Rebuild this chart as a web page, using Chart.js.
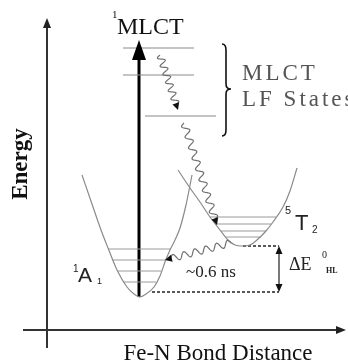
<!DOCTYPE html>
<html>
<head>
<meta charset="utf-8">
<script src="https://cdn.jsdelivr.net/npm/chart.js@4/dist/chart.umd.min.js"></script>
<style>
  html, body { margin: 0; padding: 0; background: #fff; }
  #wrap { width: 348px; height: 360px; position: relative; }
</style>
</head>
<body>
<div id="wrap"><canvas id="c"></canvas></div>
<script>
// Potential energy diagram for an Fe(II) complex.
// x: Fe-N bond distance (arbitrary units), y: energy (arbitrary units).

// 1A1 ground-state well
const groundX = [82, 93, 101, 108, 117, 127, 134, 140, 146, 154, 160, 165, 170, 175, 180, 186, 192];
const groundE = [185, 153, 130, 112, 90, 73, 66, 63, 66, 73, 84, 98, 110, 120, 132, 155, 185];

// 5T2 high-spin well
const quintetX = [178, 190, 200, 210, 220, 228, 235, 242, 250, 258, 266, 273, 283, 290, 297];
const quintetE = [190, 172, 158, 143, 130, 120, 115, 114, 115, 121, 129, 138, 153, 169, 192];

// vibrational levels: energy, left and right ends
const groundLevelE = [111, 100, 89, 78];
const groundLevelL = [108, 112.5, 117.5, 123];
const groundLevelR = [170, 165.5, 161, 156];

const quintetLevelE = [143, 136, 129, 123];
const quintetLevelL = [210, 215, 220.5, 226];
const quintetLevelR = [276, 271, 266, 261];

// MLCT / LF manifold
const mlctLevelE = [312, 285, 244];
const mlctLevelL = [123, 123, 145];
const mlctLevelR = [194, 194, 216];

// zero-point energies for the spin-state gap
const zeroPointE = [114, 68];
const gapLineL = [243, 152];
const gapX = 279;

// excitation arrow (from ground-state minimum up to 1MLCT)
const excitation = { x: 139, from: 63, to: 320 };

// relaxation cascade (start x, start E, end x, end E, waves)
const cascadeX0 = [160, 184, 231];
const cascadeE0 = [305, 237, 117];
const cascadeX1 = [178, 217, 165];
const cascadeE1 = [250, 135, 100];
const cascadeWaves = [6, 9, 5.5];

const ptsOf = (xs, ys) => xs.map((x, i) => ({ x, y: ys[i] }));

const datasets = [];
const lineSet = (data, color, width, extra) => Object.assign({
  data, showLine: true, borderColor: color, borderWidth: width,
  pointRadius: 0, fill: false, tension: 0
}, extra || {});

datasets.push(lineSet(ptsOf(groundX, groundE), '#8a8a8a', 1.2, { cubicInterpolationMode: 'monotone' }));
datasets.push(lineSet(ptsOf(quintetX, quintetE), '#8a8a8a', 1.2, { cubicInterpolationMode: 'monotone' }));

groundLevelE.forEach((e, i) => datasets.push(lineSet([{ x: groundLevelL[i], y: e }, { x: groundLevelR[i], y: e }], '#9a9a9a', 1)));
quintetLevelE.forEach((e, i) => datasets.push(lineSet([{ x: quintetLevelL[i], y: e }, { x: quintetLevelR[i], y: e }], '#9a9a9a', 1)));
mlctLevelE.forEach((e, i) => datasets.push(lineSet([{ x: mlctLevelL[i], y: e }, { x: mlctLevelR[i], y: e }], '#8a8a8a', 1)));

zeroPointE.forEach((e, i) => datasets.push(lineSet([{ x: gapLineL[i], y: e }, { x: gapX, y: e }], '#222', 1.5, { borderDash: [3, 2] })));

// axes drawn as lines
datasets.push(lineSet([{ x: 47, y: 12 }, { x: 47, y: 334 }], '#333', 2));
datasets.push(lineSet([{ x: 23, y: 30 }, { x: 338, y: 30 }], '#333', 2));

// thick excitation arrow shaft
datasets.push(lineSet([{ x: excitation.x, y: excitation.from }, { x: excitation.x, y: excitation.to - 12 }], '#000', 3));

// gap double arrow shaft
datasets.push(lineSet([{ x: gapX, y: zeroPointE[0] - 5 }, { x: gapX, y: zeroPointE[1] + 5 }], '#222', 1.2));

function head(ctx, tx, ty, ang, len, hw, color) {
  ctx.save();
  ctx.translate(tx, ty);
  ctx.rotate(ang);
  ctx.beginPath();
  ctx.moveTo(0, 0);
  ctx.lineTo(-len, -hw);
  ctx.lineTo(-len, hw);
  ctx.closePath();
  ctx.fillStyle = color;
  ctx.fill();
  ctx.restore();
}

const decor = {
  id: 'decor',
  afterDatasetsDraw(chart) {
    const ctx = chart.ctx;
    const X = v => chart.scales.x.getPixelForValue(v);
    const Y = v => chart.scales.y.getPixelForValue(v);

    // axis arrowheads
    head(ctx, X(47), Y(342), -Math.PI / 2, 10, 4, '#222');
    head(ctx, X(346), Y(30), 0, 10, 4, '#222');
    // excitation arrowhead
    head(ctx, X(excitation.x), Y(excitation.to), -Math.PI / 2, 20, 7, '#000');
    // gap arrowheads
    head(ctx, X(gapX), Y(zeroPointE[0]), -Math.PI / 2, 8, 3.5, '#111');
    head(ctx, X(gapX), Y(zeroPointE[1]), Math.PI / 2, 8, 3.5, '#111');

    // wavy relaxation arrows
    cascadeX0.forEach((x0, i) => {
      const ax = X(x0), ay = Y(cascadeE0[i]);
      const bx = X(cascadeX1[i]), by = Y(cascadeE1[i]);
      const dx = bx - ax, dy = by - ay;
      const L = Math.hypot(dx, dy);
      const ux = dx / L, uy = dy / L;
      const nx = -uy, ny = ux;
      const shaft = L - 6;
      ctx.save();
      ctx.beginPath();
      const steps = 240;
      for (let s = 0; s <= steps; s++) {
        const t = s / steps;
        const d = t * shaft;
        const w = 3.4 * Math.sin(2 * Math.PI * cascadeWaves[i] * t);
        const px = ax + ux * d + nx * w;
        const py = ay + uy * d + ny * w;
        if (s === 0) ctx.moveTo(px, py); else ctx.lineTo(px, py);
      }
      ctx.strokeStyle = '#707070';
      ctx.lineWidth = 1.2;
      ctx.stroke();
      ctx.restore();
      head(ctx, bx, by, Math.atan2(dy, dx), 7, 3.5, '#111');
    });

    // brace grouping the MLCT / LF states
    const bx = X(225), top = Y(316), bot = Y(224), mid = Y(271);
    ctx.save();
    ctx.beginPath();
    ctx.moveTo(bx - 3, top);
    ctx.quadraticCurveTo(bx + 1, top, bx + 1, top + 6);
    ctx.lineTo(bx + 1, mid - 5);
    ctx.quadraticCurveTo(bx + 1, mid, bx + 6, mid);
    ctx.quadraticCurveTo(bx + 1, mid, bx + 1, mid + 5);
    ctx.lineTo(bx + 1, bot - 6);
    ctx.quadraticCurveTo(bx + 1, bot, bx - 3, bot);
    ctx.strokeStyle = '#111';
    ctx.lineWidth = 1.6;
    ctx.stroke();
    ctx.restore();

    // text
    const serif = '"Liberation Serif", "Times New Roman", serif';
    const sans = '"Liberation Sans", Arial, sans-serif';
    const txt = (s, x, y, font, color, align, spacing) => {
      ctx.save();
      ctx.font = font;
      ctx.fillStyle = color;
      ctx.textAlign = align || 'left';
      ctx.textBaseline = 'alphabetic';
      if (spacing) ctx.letterSpacing = spacing;
      ctx.fillText(s, x, y);
      ctx.restore();
    };

    txt('1', X(112), Y(342), '11px ' + serif, '#111');
    txt('MLCT', X(117), Y(326), '24px ' + serif, '#111');

    txt('MLCT', X(242), Y(280), '23px ' + serif, '#555', 'left', '3px');
    txt('LF States', X(242), Y(254), '23px ' + serif, '#555', 'left', '3px');

    txt('1', X(73), Y(88), '10px ' + sans, '#222');
    txt('A', X(78), Y(78), '21px ' + sans, '#222');
    txt('1', X(97), Y(76), '9px ' + sans, '#222');

    txt('5', X(285), Y(146), '11px ' + sans, '#222');
    txt('T', X(295), Y(130), '22px ' + sans, '#222');
    txt('2', X(312), Y(127), '10px ' + sans, '#222');

    txt('~0.6 ns', X(211), Y(83), '17px ' + serif, '#222', 'center');

    txt('\u0394E', X(289), Y(90), '18px ' + serif, '#222');
    txt('0', X(322), Y(102), '10px ' + serif, '#222');
    txt('HL', X(326), Y(87), 'bold 8px ' + serif, '#222');

    txt('Fe-N Bond Distance', X(218), Y(0.5), '23px ' + serif, '#111', 'center');

    ctx.save();
    ctx.translate(X(27), Y(196));
    ctx.rotate(-Math.PI / 2);
    ctx.font = 'bold 23px ' + serif;
    ctx.fillStyle = '#111';
    ctx.textAlign = 'center';
    ctx.fillText('Energy', 0, 0);
    ctx.restore();
  }
};

new Chart(document.getElementById('c'), {
  type: 'scatter',
  data: { datasets },
  options: {
    responsive: true,
    maintainAspectRatio: false,
    animation: false,
    layout: { padding: 0 },
    plugins: { legend: { display: false }, tooltip: { enabled: false } },
    scales: {
      x: { type: 'linear', min: 0, max: 348, display: false },
      y: { type: 'linear', min: 0, max: 360, display: false }
    }
  },
  plugins: [decor]
});
</script>
</body>
</html>
